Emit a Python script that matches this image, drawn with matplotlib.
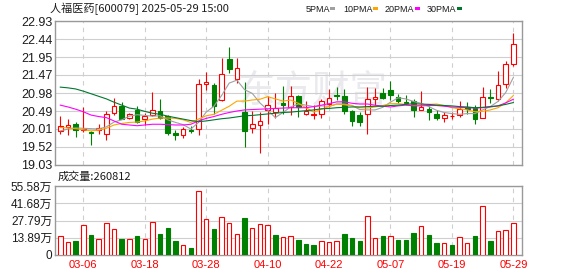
import matplotlib
matplotlib.use('Agg')
import matplotlib.pyplot as plt
from matplotlib.patches import Rectangle
import numpy as np

W, H = 578, 276

# trading days, 2025-03-03 .. 2025-05-29
dates = ['03-03', '03-04', '03-05', '03-06', '03-07', '03-10', '03-11', '03-12', '03-13', '03-14',
         '03-17', '03-18', '03-19', '03-20', '03-21', '03-24', '03-25', '03-26', '03-27', '03-28',
         '03-31', '04-01', '04-02', '04-03', '04-07', '04-08', '04-09', '04-10', '04-11', '04-14',
         '04-15', '04-16', '04-17', '04-18', '04-21', '04-22', '04-23', '04-24', '04-25', '04-28',
         '04-29', '04-30', '05-06', '05-07', '05-08', '05-09', '05-12', '05-13', '05-14', '05-15',
         '05-16', '05-19', '05-20', '05-21', '05-22', '05-23', '05-26', '05-27', '05-28', '05-29']

opens = [19.95, 20.05, 20.15, 19.98, 19.93, 19.98, 19.87, 20.44, 20.64, 20.30,
         20.53, 20.28, 20.39, 20.50, 20.35, 19.90, 19.84, 19.98, 20.00, 21.23,
         21.19, 20.79, 21.90, 21.35, 20.45, 20.02, 20.11, 20.51, 20.45, 20.70,
         20.61, 20.89, 20.42, 20.38, 20.42, 20.69, 20.92, 20.90, 20.49, 20.38,
         20.40, 20.82, 20.99, 21.06, 20.87, 20.73, 20.77, 20.53, 20.54, 20.41,
         20.29, 20.35, 20.38, 20.59, 20.56, 20.31, 20.88, 20.81, 21.23, 21.76]
highs = [20.36, 20.28, 20.18, 20.60, 19.95, 20.13, 20.50, 20.84, 20.73, 20.44,
         20.62, 20.44, 21.02, 20.82, 20.39, 19.97, 20.06, 20.08, 21.37, 21.54,
         21.26, 21.94, 22.23, 21.94, 21.27, 20.49, 20.46, 20.90, 20.99, 21.16,
         21.16, 20.93, 20.76, 20.65, 20.83, 21.10, 21.15, 21.10, 20.51, 20.45,
         21.14, 21.11, 21.11, 21.30, 20.94, 20.93, 20.83, 21.04, 20.63, 20.53,
         20.46, 20.46, 20.76, 20.73, 20.65, 21.14, 21.08, 21.59, 21.86, 22.61]
lows = [19.86, 19.85, 19.78, 19.93, 19.56, 19.86, 19.70, 20.39, 20.26, 20.26,
        20.16, 20.12, 20.35, 20.27, 19.85, 19.70, 19.75, 19.90, 19.83, 21.05,
        20.41, 20.76, 21.52, 21.26, 19.51, 19.88, 19.36, 20.15, 20.31, 20.40,
        20.38, 20.33, 20.39, 20.27, 20.29, 20.60, 20.78, 20.40, 20.09, 20.09,
        19.86, 20.65, 20.81, 20.79, 20.72, 20.65, 20.32, 20.52, 20.24, 20.25,
        20.20, 20.27, 20.34, 20.40, 20.13, 20.30, 20.72, 20.76, 21.12, 21.71]
closes = [20.09, 20.10, 19.97, 19.99, 19.90, 20.02, 20.41, 20.64, 20.28, 20.41,
          20.19, 20.35, 20.53, 20.30, 19.90, 19.84, 20.01, 19.95, 21.22, 21.27,
          20.63, 21.49, 21.62, 21.65, 19.95, 20.13, 20.22, 20.65, 20.58, 20.65,
          20.91, 20.61, 20.48, 20.40, 20.76, 20.85, 20.89, 20.49, 20.22, 20.18,
          20.83, 20.88, 20.85, 20.92, 20.76, 20.71, 20.51, 20.60, 20.45, 20.29,
          20.38, 20.36, 20.54, 20.55, 20.27, 20.87, 20.84, 21.20, 21.77, 22.32]

# volume in units of 10k shares (万)
volumes = [15.2, 10.1, 11.1, 24.1, 16.1, 12.7, 25.6, 20.7, 12.8, 12.7,
           15.3, 12.7, 26.4, 16.9, 21.8, 11.2, 7.7, 5.5, 51.8, 28.8,
           21.0, 30.4, 25.6, 16.6, 29.9, 21.5, 24.8, 23.9, 16.1, 14.3,
           15.2, 12.0, 8.7, 7.9, 10.8, 10.0, 10.8, 16.8, 13.5, 11.1,
           31.2, 13.3, 15.2, 14.9, 11.9, 11.9, 17.6, 23.0, 16.0, 9.5,
           9.2, 7.9, 14.1, 9.2, 15.2, 39.3, 11.1, 19.0, 19.8, 26.0812]

ma5 = [19.95, 20.00, 20.03, 20.02, 20.01, 20.00, 20.06, 20.19, 20.25, 20.35,
       20.39, 20.37, 20.35, 20.36, 20.25, 20.18, 20.12, 20.00, 20.18, 20.46,
       20.62, 20.91, 21.25, 21.33, 21.07, 20.97, 20.71, 20.52, 20.31, 20.45,
       20.60, 20.68, 20.65, 20.61, 20.63, 20.62, 20.68, 20.68, 20.64, 20.53,
       20.52, 20.52, 20.59, 20.73, 20.85, 20.82, 20.75, 20.70, 20.61, 20.51,
       20.45, 20.42, 20.40, 20.42, 20.42, 20.52, 20.61, 20.75, 20.99, 21.40]
ma10 = [20.04, 20.03, 20.01, 19.98, 19.95, 19.97, 20.02, 20.11, 20.15, 20.18,
        20.19, 20.22, 20.27, 20.30, 20.30, 20.29, 20.25, 20.18, 20.27, 20.36,
        20.40, 20.51, 20.62, 20.76, 20.76, 20.79, 20.81, 20.88, 20.82, 20.76,
        20.79, 20.70, 20.58, 20.46, 20.54, 20.61, 20.68, 20.66, 20.63, 20.58,
        20.57, 20.60, 20.64, 20.69, 20.69, 20.67, 20.64, 20.65, 20.67, 20.68,
        20.64, 20.58, 20.55, 20.52, 20.47, 20.48, 20.52, 20.58, 20.71, 20.91]
ma20 = [20.65, 20.60, 20.54, 20.47, 20.38, 20.34, 20.31, 20.22, 20.13, 20.11,
        20.09, 20.11, 20.13, 20.13, 20.12, 20.11, 20.11, 20.13, 20.22, 20.29,
        20.34, 20.40, 20.45, 20.49, 20.52, 20.53, 20.54, 20.55, 20.56, 20.57,
        20.58, 20.58, 20.58, 20.61, 20.65, 20.69, 20.74, 20.74, 20.70, 20.68,
        20.68, 20.65, 20.62, 20.60, 20.63, 20.65, 20.63, 20.63, 20.64, 20.64,
        20.62, 20.60, 20.59, 20.58, 20.57, 20.58, 20.60, 20.63, 20.71, 20.81]
ma30 = [21.14, 21.12, 21.09, 21.03, 20.96, 20.89, 20.82, 20.73, 20.65, 20.57,
        20.54, 20.48, 20.43, 20.40, 20.35, 20.31, 20.27, 20.23, 20.20, 20.22,
        20.25, 20.28, 20.30, 20.33, 20.36, 20.37, 20.39, 20.41, 20.43, 20.45,
        20.46, 20.48, 20.50, 20.52, 20.55, 20.56, 20.58, 20.59, 20.60, 20.60,
        20.61, 20.62, 20.62, 20.64, 20.65, 20.67, 20.69, 20.68, 20.67, 20.65,
        20.64, 20.63, 20.61, 20.60, 20.58, 20.59, 20.61, 20.63, 20.67, 20.72]

price_ticks = [19.03, 19.52, 20.01, 20.49, 20.98, 21.47, 21.95, 22.44, 22.93]
vol_ticks = [0, 13.89, 27.79, 41.68, 55.58]
label_dates = ['03-06', '03-18', '03-28', '04-10', '04-22', '05-07', '05-19', '05-29']

ma_names = ['5PMA', '10PMA', '20PMA', '30PMA']
ma_colors = ['#a0a0a0', '#ffa500', '#ff00ff', '#00772f']
RED = '#ff0000'
GREEN = '#008000'
GRID = '#cfcfcf'
SPINE = '#999999'
TXT = '#1c1c1c'
cjk = ['Noto Sans CJK SC', 'DejaVu Sans']
num = ['Liberation Sans', 'Noto Sans CJK SC']


def fx(x):
    return x / W


def fy(y):
    return 1 - y / H


fig = plt.figure(figsize=(W / 100, H / 100), dpi=100)
ax = fig.add_axes([fx(55), fy(164.7), 467 / W, 143.4 / H])
axv = fig.add_axes([fx(55), fy(254.7), 467 / W, 68.4 / H])

x = np.arange(len(dates))
o = np.array(opens)
c = np.array(closes)
up = c >= o
vol_up = np.r_[up[0], c[1:] >= c[:-1]]
label_idx = [dates.index(d) for d in label_dates]

# faint watermark behind the candles
ax.text(0.55, 0.51, '东方财富', fontsize=27, color='#e9e9ee', family=cjk,
        ha='center', va='center', zorder=0.5, transform=ax.transAxes)

# candles
body_lo = np.minimum(o, c)
body_hi = np.maximum(o, c)
cols = np.where(up, RED, GREEN)
ax.vlines(x, lows, body_lo, colors=cols, lw=0.8, zorder=2)
ax.vlines(x, body_hi, highs, colors=cols, lw=0.8, zorder=2)
ax.bar(x, body_hi - body_lo, bottom=body_lo, width=0.6,
       facecolor=np.where(up, 'white', GREEN), edgecolor=cols, lw=0.8, zorder=3)

for vals, col in zip([ma5, ma10, ma20, ma30], ma_colors):
    ax.plot(x, vals, color=col, lw=0.8, zorder=4)

# volume bars
vcols = np.where(vol_up, RED, GREEN)
axv.bar(x, volumes, width=0.58, facecolor=np.where(vol_up, 'white', GREEN),
        edgecolor=vcols, lw=0.8, zorder=3)

for a in (ax, axv):
    a.set_xlim(-0.69, 60.13)
    a.set_xticks(label_idx)
    a.grid(axis='y', color=GRID, lw=0.8, zorder=1)
    a.grid(axis='x', color=GRID, lw=0.8, ls=(0, (4, 4)), zorder=1)
    a.set_axisbelow(True)
    for s in a.spines.values():
        s.set_color(SPINE)
        s.set_linewidth(1.0)
    a.tick_params(length=0, pad=2, colors=TXT, labelsize=9)

ax.set_ylim(price_ticks[0], price_ticks[-1])
ax.set_yticks(price_ticks)
ax.set_yticklabels([f'{v:.2f}' for v in price_ticks], family=num)
ax.set_xticklabels([])

axv.set_ylim(vol_ticks[0], vol_ticks[-1])
axv.set_yticks(vol_ticks)
axv.set_yticklabels(['0'] + [f'{v:.2f}万' for v in vol_ticks[1:]], family=num, fontsize=8.5)
axv.set_xticklabels(label_dates, family=num, fontsize=8, color=RED)
axv.tick_params(axis='x', pad=4)

# header texts
fig.text(fx(50), fy(9), '人福医药[600079] 2025-05-29 15:00', family=cjk,
         fontsize=8, color=TXT, va='center', ha='left')
fig.text(fx(58), fy(177), f'成交量:{volumes[-1] * 1e4:.0f}', family=cjk,
         fontsize=8, color=TXT, va='center', ha='left')

legend_x = [306, 343, 385, 427]
swatch_x = [330, 373, 415, 457]
for lx, sx, name, col in zip(legend_x, swatch_x, ma_names, ma_colors):
    fig.text(fx(lx), fy(9), name, family=num, fontsize=6.5, color=TXT,
             va='center', ha='left')
    fig.add_artist(Rectangle((fx(sx), fy(10)), 5 / W, 3 / H,
                             transform=fig.transFigure, facecolor=col,
                             edgecolor='none'))

fig.savefig('out.png', dpi=100)
